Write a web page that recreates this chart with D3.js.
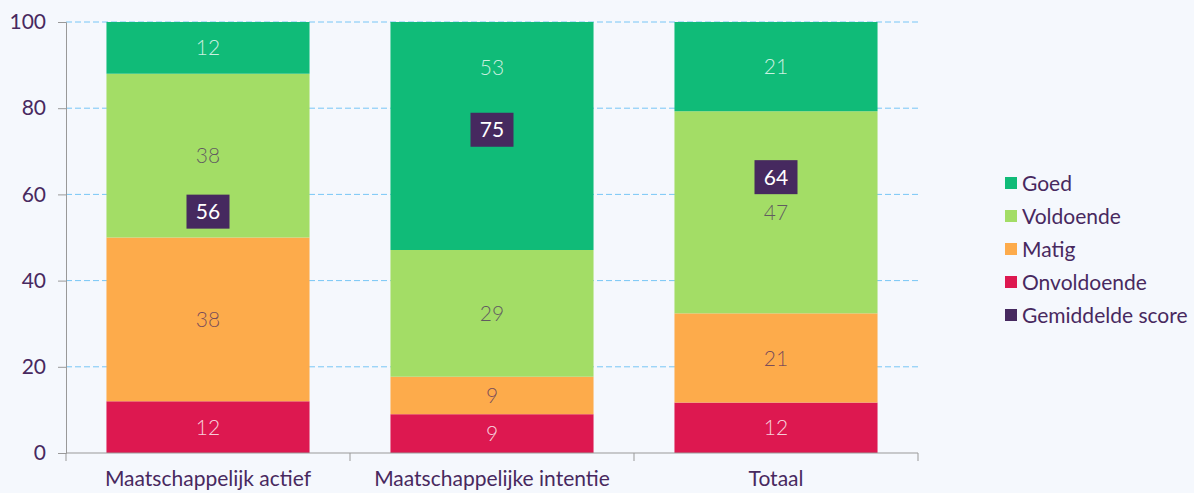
<!DOCTYPE html>
<html>
<head>
<meta charset="utf-8">
<script src="https://cdn.jsdelivr.net/npm/d3@7"></script>
<style>
  body { margin: 0; background: #f5f8fd; }
  svg { display: block; font-family: Lato, "Open Sans", sans-serif; }
</style>
</head>
<body>
<div id="chart"></div>
<script>
// data
var categories = ["Maatschappelijk actief", "Maatschappelijke intentie", "Totaal"];
var series = ["Onvoldoende", "Matig", "Voldoende", "Goed"];
var onvoldoende = [12, 9, 11.7];
var matig = [38, 8.7, 20.7];
var voldoende = [38, 29.4, 46.9];
var goed = [12, 52.9, 20.7];
var gemiddeldeScore = [56, 75, 64];
var yTicks = [0, 20, 40, 60, 80, 100];

var colors = {
    "Goed": "#10bb78",
    "Voldoende": "#a3dd66",
    "Matig": "#fdab4b",
    "Onvoldoende": "#dd1850",
    "Gemiddelde score": "#46295f"
};
var labelColors = {
    "Goed": "rgba(255,255,255,0.78)",
    "Voldoende": "rgba(72,41,95,0.72)",
    "Matig": "rgba(72,41,95,0.72)",
    "Onvoldoende": "rgba(255,255,255,0.8)"
};

var width = 1194, height = 493;
var margin = { top: 22, right: 276, bottom: 40, left: 66 };
var fontSize = "21px";
var boxW = 43, boxH = 34;

var rows = categories.map(function (c, i) {
    return { cat: c, Onvoldoende: onvoldoende[i], Matig: matig[i], Voldoende: voldoende[i], Goed: goed[i], score: gemiddeldeScore[i] };
});
var stacked = d3.stack().keys(series)(rows);

var x = d3.scaleBand()
    .domain(categories)
    .range([margin.left, width - margin.right])
    .paddingInner(0.285)
    .paddingOuter(0.1425);
var y = d3.scaleLinear()
    .domain([0, 100])
    .range([height - margin.bottom, margin.top]);

var svg = d3.select("#chart").append("svg")
    .attr("width", width)
    .attr("height", height);

// gridlines
svg.append("g")
    .selectAll("line")
    .data(yTicks.filter(d => d > 0))
    .enter().append("line")
    .attr("x1", margin.left)
    .attr("x2", width - margin.right)
    .attr("y1", d => y(d))
    .attr("y2", d => y(d))
    .attr("stroke", "#78c6f6")
    .attr("stroke-width", 1)
    .attr("stroke-dasharray", "6,3");

// bars
var layer = svg.append("g")
    .selectAll("g")
    .data(stacked)
    .enter().append("g")
    .attr("fill", d => colors[d.key]);

layer.selectAll("rect")
    .data(d => d)
    .enter().append("rect")
    .attr("x", d => x(d.data.cat))
    .attr("width", x.bandwidth())
    .attr("y", d => y(d[1]))
    .attr("height", d => y(d[0]) - y(d[1]));

// segment label position: middle of segment, moved up when it collides with the score box
function labelY(d) {
    var top = y(d[1]), bottom = y(d[0]);
    var mid = (top + bottom) / 2;
    var bc = y(d.data.score);
    var bTop = bc - boxH / 2, bBottom = bc + boxH / 2;
    if (mid + 11 > bTop && mid - 11 < bBottom && mid <= bc + 10)
        return (top + bTop) / 2;
    return mid;
}

stacked.forEach(function (s) {
    svg.append("g")
        .selectAll("text")
        .data(s)
        .enter().append("text")
        .attr("x", d => x(d.data.cat) + x.bandwidth() / 2)
        .attr("y", labelY)
        .attr("dy", "0.36em")
        .attr("text-anchor", "middle")
        .style("font-size", fontSize)
        .style("font-weight", 300)
        .style("fill", labelColors[s.key])
        .text(d => Math.round(d[1] - d[0]));
});

// mean score boxes
var score = svg.append("g")
    .selectAll("g")
    .data(rows)
    .enter().append("g")
    .attr("transform", d => "translate(" + (x(d.cat) + x.bandwidth() / 2) + "," + y(d.score) + ")");
score.append("rect")
    .attr("x", -boxW / 2)
    .attr("y", -boxH / 2)
    .attr("width", boxW)
    .attr("height", boxH)
    .attr("fill", colors["Gemiddelde score"]);
score.append("text")
    .attr("text-anchor", "middle")
    .attr("dy", "0.36em")
    .style("font-size", fontSize)
    .style("fill", "#ffffff")
    .text(d => d.score);

// axes
var yAxis = svg.append("g")
    .attr("transform", "translate(" + margin.left + ",0)")
    .call(d3.axisLeft(y).tickValues(yTicks).tickSize(8).tickPadding(12));
var xAxis = svg.append("g")
    .attr("transform", "translate(0," + (height - margin.bottom) + ")")
    .call(d3.axisBottom(x).tickSize(0).tickPadding(18));

// x tick marks at band boundaries
var bounds = categories.map(c => x(c) - x.step() * x.paddingInner() / 2);
bounds.push(width - margin.right);
xAxis.selectAll(".bound")
    .data(bounds)
    .enter().append("line")
    .attr("class", "bound")
    .attr("x1", d => d).attr("x2", d => d)
    .attr("y1", 0).attr("y2", 8)
    .attr("stroke", "#999");

[yAxis, xAxis].forEach(function (a) {
    a.select(".domain").attr("stroke", "#999");
    a.selectAll(".tick line").attr("stroke", "#999");
    a.selectAll("text")
        .style("font-size", fontSize)
        .style("font-family", "Lato, sans-serif")
        .style("fill", "#48295f");
});
xAxis.select(".domain").attr("d", "M" + margin.left + ",0H" + (width - margin.right));

// legend
var legendKeys = ["Goed", "Voldoende", "Matig", "Onvoldoende", "Gemiddelde score"];
var legend = svg.append("g")
    .selectAll("g")
    .data(legendKeys)
    .enter().append("g")
    .attr("transform", (d, i) => "translate(1005," + (183 + i * 33) + ")");
legend.append("rect")
    .attr("x", 0)
    .attr("y", -6)
    .attr("width", 12)
    .attr("height", 12)
    .attr("fill", d => colors[d]);
legend.append("text")
    .attr("x", 17)
    .attr("dy", "0.36em")
    .style("font-size", fontSize)
    .style("fill", "#48295f")
    .text(d => d);
</script>
</body>
</html>
